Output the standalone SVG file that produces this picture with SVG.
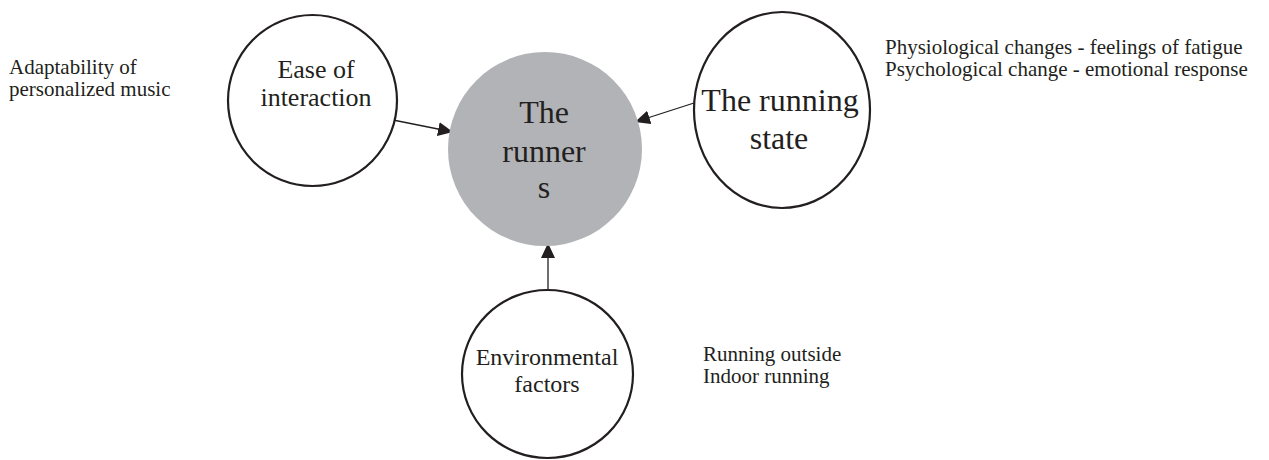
<svg xmlns="http://www.w3.org/2000/svg" width="1269" height="460" viewBox="0 0 1269 460">
<defs>
<style>
.node{fill:#fff;stroke:#231f20;stroke-width:2.2}
.hub{fill:#b1b3b6;stroke:none}
.t{font-family:"Liberation Serif","Times New Roman",serif;fill:#231f20}
.c{text-anchor:middle}
.edge{stroke:#231f20;stroke-width:1.3;fill:none;marker-end:url(#ah)}
</style>
<marker id="ah" markerUnits="userSpaceOnUse" markerWidth="16" markerHeight="14" refX="15" refY="7" orient="auto">
<path d="M0,0 L15,7 L0,14 Z" fill="#231f20"/>
</marker>
</defs>
<g id="connectors">
<line class="edge" x1="388" y1="119" x2="453" y2="132"/>
<line class="edge" x1="694" y1="103" x2="635" y2="122"/>
<line class="edge" x1="548" y1="291" x2="548" y2="243"/>
</g>
<g id="runners">
<circle class="hub" cx="545" cy="149" r="97"/>
<text class="t c" font-size="32" x="544" y="123">The</text>
<text class="t c" font-size="32" x="544" y="162">runner</text>
<text class="t c" font-size="32" x="544" y="198">s</text>
</g>
<g id="ease">
<ellipse class="node" cx="312.5" cy="100.5" rx="84.5" ry="85.5"/>
<text class="t c" font-size="26" x="316" y="78">Ease of</text>
<text class="t c" font-size="26" x="316" y="106">interaction</text>
</g>
<g id="running-state">
<ellipse class="node" cx="782" cy="110" rx="88" ry="98"/>
<text class="t c" font-size="32" x="780" y="111">The running</text>
<text class="t c" font-size="32" x="779" y="149">state</text>
</g>
<g id="environment">
<ellipse class="node" cx="547.5" cy="374" rx="85.5" ry="84"/>
<text class="t c" font-size="24" x="547" y="365">Environmental</text>
<text class="t c" font-size="24" x="547" y="392">factors</text>
</g>
<g id="notes">
<text class="t" font-size="21" x="9" y="74">Adaptability of</text>
<text class="t" font-size="21" x="9" y="96">personalized music</text>
<text class="t" font-size="21" x="885" y="54">Physiological changes - feelings of fatigue</text>
<text class="t" font-size="21" x="885" y="76">Psychological change - emotional response</text>
<text class="t" font-size="21" x="703" y="361">Running outside</text>
<text class="t" font-size="21" x="703" y="383">Indoor running</text>
</g>
</svg>
